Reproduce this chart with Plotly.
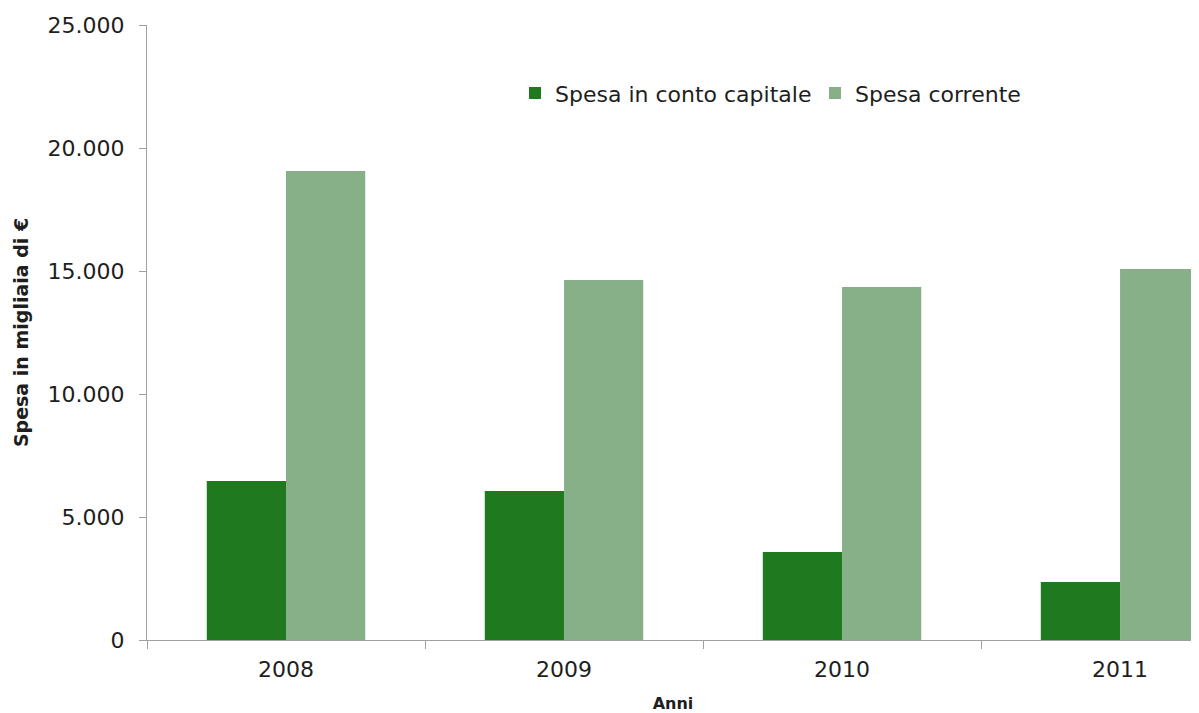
import plotly.graph_objects as go

anni = ["2008", "2009", "2010", "2011"]
spesa_capitale = [6460, 6060, 3580, 2360]
spesa_corrente = [19070, 14630, 14350, 15080]
y_ticks = [0, 5000, 10000, 15000, 20000, 25000]
y_tick_labels = ["0", "5.000", "10.000", "15.000", "20.000", "25.000"]

FONT = "DejaVu Sans, sans-serif"

fig = go.Figure()
fig.add_trace(go.Bar(x=anni, y=spesa_capitale, name="Spesa in conto capitale",
                     marker=dict(color="#1F7A1F", line=dict(width=0))))
fig.add_trace(go.Bar(x=anni, y=spesa_corrente, name="Spesa corrente",
                     marker=dict(color="#88B088", line=dict(width=0))))

fig.update_layout(
    width=1191, height=705,
    margin=dict(l=139, r=0, t=17, b=73),
    paper_bgcolor="white", plot_bgcolor="white",
    barmode="group", bargap=0.43, bargroupgap=0,
    font=dict(family=FONT, size=20, color="#1E1E1E"),
    legend=dict(orientation="h", x=0.3498, y=0.889, xanchor="left", yanchor="middle",
                font=dict(size=22, family=FONT, color="#1E1E1E"),
                itemwidth=30, entrywidth=255, bgcolor="rgba(0,0,0,0)"),
    xaxis=dict(range=[-0.5, 3.284], automargin=False, showline=True, linecolor="#A0A0A0",
               linewidth=1, ticks="outside", tickson="boundaries", ticklen=8,
               tickcolor="#A0A0A0", ticklabelstandoff=10,
               showgrid=False, tickfont=dict(size=22, family=FONT),
               title=dict(text="<b>Anni</b>", font=dict(size=16, family=FONT), standoff=33)),
    yaxis=dict(range=[0, 25000], automargin=False, tickvals=y_ticks, ticktext=y_tick_labels,
               showline=True, linecolor="#A0A0A0", linewidth=1,
               ticks="outside", ticklen=7, tickcolor="#A0A0A0", showgrid=False,
               ticklabelstandoff=10,
               zeroline=False, tickfont=dict(size=22, family=FONT),
               title=dict(text="<b>Spesa in migliaia di €</b>", font=dict(size=19, family=FONT),
                          standoff=13)),
)

fig.write_html("out.html")
